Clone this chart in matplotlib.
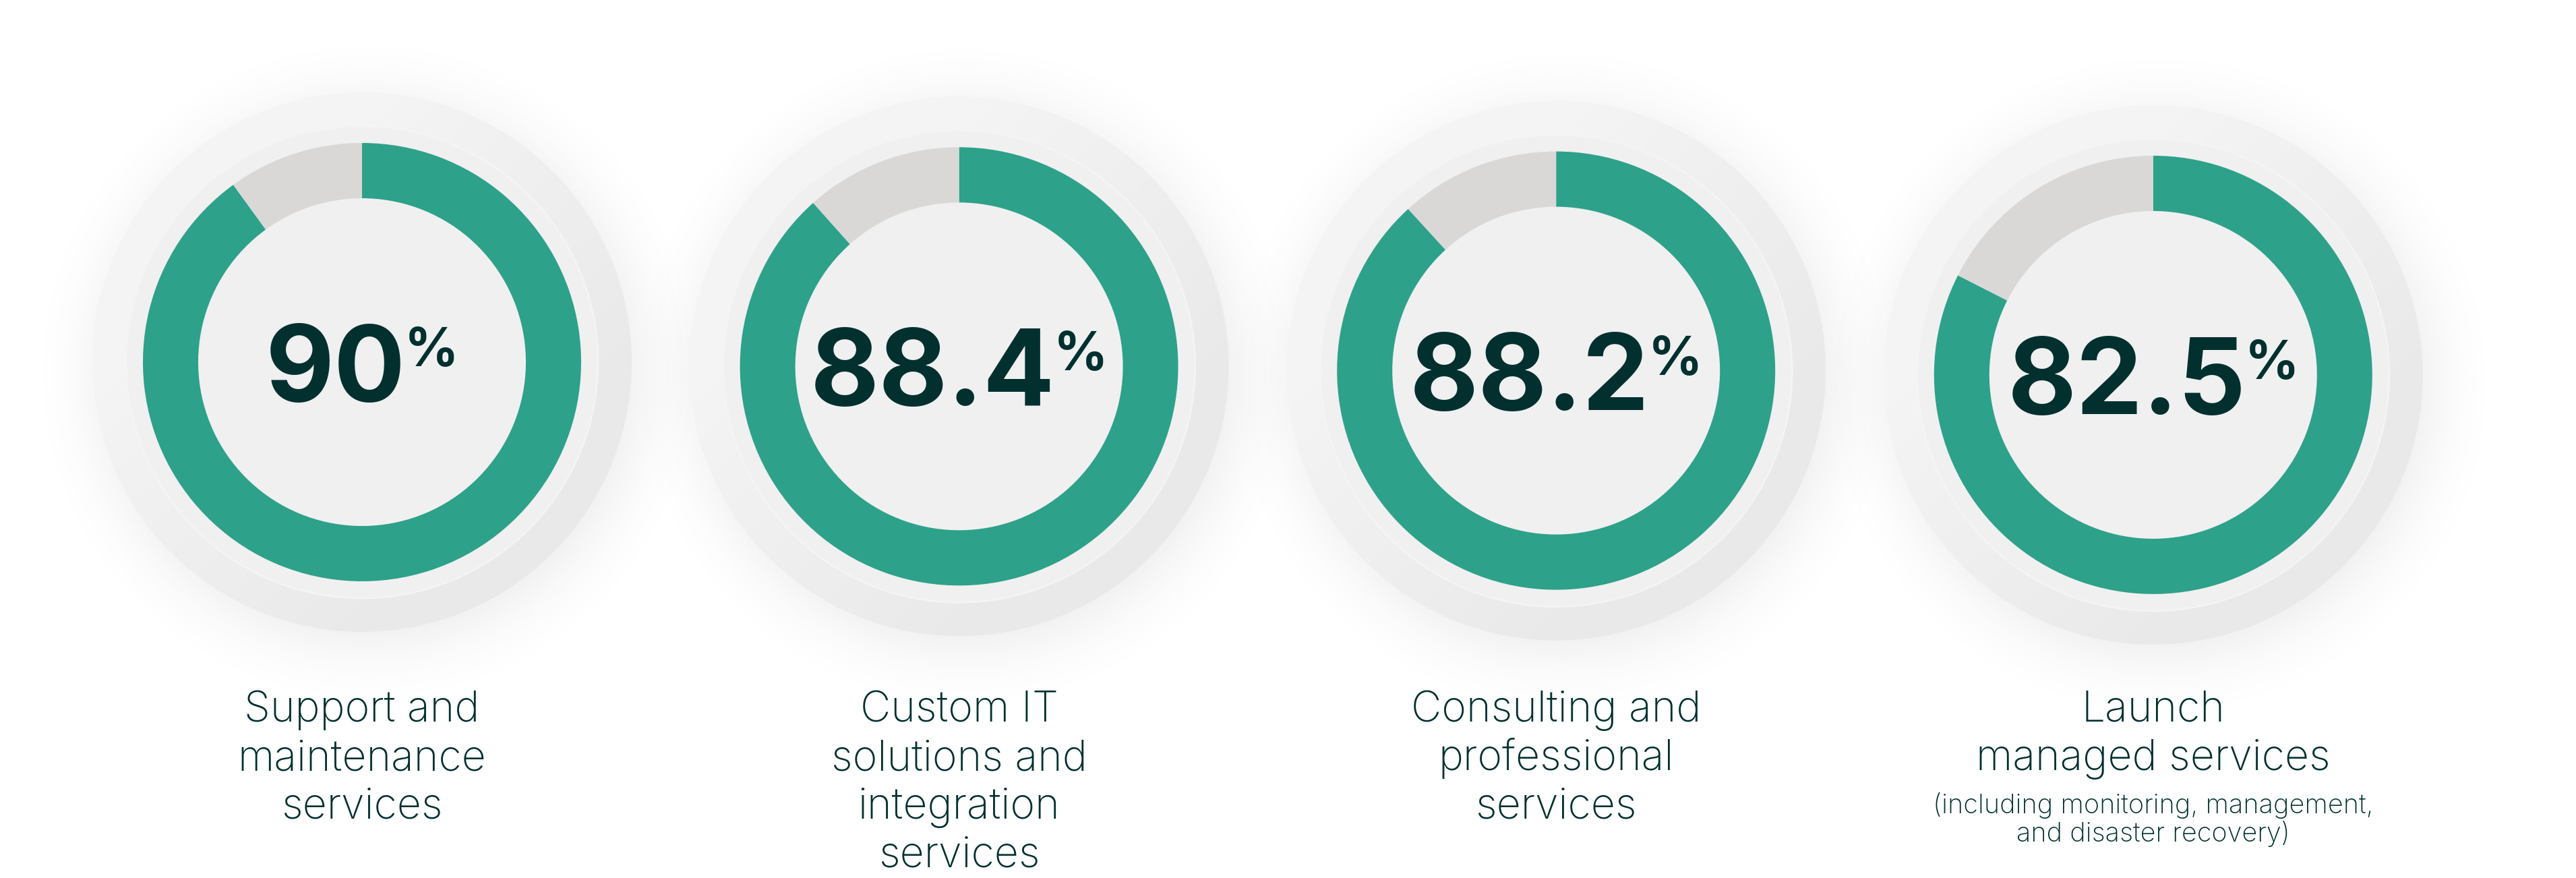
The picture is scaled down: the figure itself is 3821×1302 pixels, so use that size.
import numpy as np
import matplotlib.pyplot as plt
from matplotlib.patches import Circle

W, H = 3821, 1302

# share of respondents per service line
values = [90.0, 88.4, 88.2, 82.5]
value_labels = ['90', '88.4', '88.2', '82.5']
category_lines = [
    ['Support and', 'maintenance', 'services'],
    ['Custom IT', 'solutions and', 'integration', 'services'],
    ['Consulting and', 'professional', 'services'],
    ['Launch', 'managed services'],
]
note_lines = [[], [], [], ['(including monitoring, management,', 'and disaster recovery)']]

GREEN = '#2ea18a'
GREY = '#d9d8d6'
FACE = '#f0f0f0'
INK = '#01302f'

fig = plt.figure(figsize=(W / 100, H / 100), dpi=100)
fig.patch.set_facecolor('white')
ax = fig.add_axes([0, 0, 1, 1])

for i, v in enumerate(values):
    cx = 537 + i * 885.6
    cy = H - (537 + i * 6.3)

    # soft drop shadow around the button
    n = 560
    gx, gy = np.meshgrid(np.linspace(cx - n, cx + n, 400), np.linspace(cy - n, cy + n, 400))
    d = np.hypot(gx - cx - 10, gy - cy + 14)
    a = np.clip(1 - (d - 385) / 120, 0, 1) ** 2 * 0.13
    img = np.zeros(gx.shape + (4,))
    img[..., :3] = 0.6
    img[..., 3] = a
    ax.imshow(img, extent=(cx - n, cx + n, cy - n, cy + n), origin='lower',
              interpolation='bilinear', zorder=1)

    # outer raised disc with light from top-left
    outer = Circle((cx, cy), 400, facecolor='none', edgecolor='none')
    ax.add_patch(outer)
    t = ((gx - cx) - (gy - cy)) / 800.0
    shade = 0.96 - 0.045 * np.clip(t + 0.5, 0, 1)
    disc = np.dstack([shade, shade, shade])
    im = ax.imshow(disc, extent=(cx - n, cx + n, cy - n, cy + n), origin='lower',
                   interpolation='bilinear', zorder=2)
    im.set_clip_path(outer)

    ax.add_patch(Circle((cx, cy), 350, facecolor=FACE, edgecolor='#f4f4f4', linewidth=2, zorder=3))

    wedges, _ = ax.pie([v, 100 - v], colors=[GREEN, GREY], startangle=90, counterclock=False,
                       radius=325, center=(cx, cy),
                       wedgeprops=dict(width=82, linewidth=0))
    for w in wedges:
        w.set_zorder(4)

    # big number with superscript percent sign
    r = fig.canvas.get_renderer()
    base = cy - 58
    num = ax.text(0, base, value_labels[i], fontsize=113, fontweight='bold', family=['Inter', 'DejaVu Sans'],
                  color=INK, ha='left', va='baseline', zorder=5)
    pct = ax.text(0, base + 52, '%', fontsize=57, fontweight='bold', family=['Inter', 'DejaVu Sans'],
                  color=INK, ha='left', va='baseline', zorder=5)
    wn = num.get_window_extent(r).width
    wp = pct.get_window_extent(r).width
    x0 = cx - (wn + wp - 2) / 2
    num.set_x(x0)
    pct.set_x(x0 + wn - 2)

    for j, line in enumerate(category_lines[i]):
        ax.text(cx, H - (1070 + 72 * j), line, fontsize=45, fontweight='light',
                family=['Inter', 'DejaVu Sans'], color=INK, ha='center', va='baseline')
    for j, line in enumerate(note_lines[i]):
        ax.text(cx, H - (1206 + 42 * j), line, fontsize=28.5, fontweight='light',
                family=['Inter', 'DejaVu Sans'], color=INK, ha='center', va='baseline')

ax.set_xlim(0, W)
ax.set_ylim(0, H)
ax.set_aspect('equal')
ax.axis('off')

fig.savefig('out.png', dpi=100, facecolor='white')
